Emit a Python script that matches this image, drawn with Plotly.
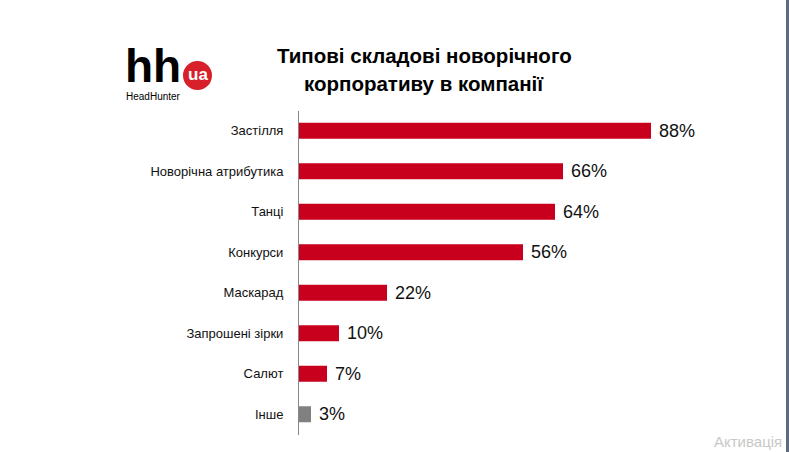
import plotly.graph_objects as go

categories = ["Застілля", "Новорічна атрибутика", "Танці", "Конкурси",
              "Маскарад", "Запрошені зірки", "Салют", "Інше"]
values = [88, 66, 64, 56, 22, 10, 7, 3]
value_labels = ["88%", "66%", "64%", "56%", "22%", "10%", "7%", "3%"]
colors = ["#C8001E"] * 7 + ["#808080"]

W, H = 789, 452
def px(x):
    return x / W
def py(y):
    return 1 - y / H

fig = go.Figure()
fig.add_trace(go.Bar(
    y=categories, x=values, orientation="h",
    marker=dict(color=colors, line=dict(width=0)),
    width=0.4, hoverinfo="skip",
))

for c, v, t in zip(categories, values, value_labels):
    fig.add_annotation(x=v, y=c, xref="x", yref="y", text=t, showarrow=False,
                       xanchor="left", yanchor="middle", xshift=6,
                       font=dict(family="Liberation Sans", size=18, color="#111111"))

# Title
fig.add_annotation(x=px(424), y=py(55), xref="paper", yref="paper",
                   text="<b>Типові складові новорічного</b>", showarrow=False,
                   xanchor="center", yanchor="middle",
                   font=dict(family="Liberation Sans", size=20.5, color="#000000"))
fig.add_annotation(x=px(424), y=py(83), xref="paper", yref="paper",
                   text="<b>корпоративу в компанії</b>", showarrow=False,
                   xanchor="center", yanchor="middle",
                   font=dict(family="Liberation Sans", size=20.5, color="#000000"))

# Logo
fig.add_annotation(x=px(123), y=py(66), xref="paper", yref="paper",
                   text="<b>hh</b>", showarrow=False, xanchor="left", yanchor="middle",
                   font=dict(family="Liberation Sans", size=46, color="#000000"))
fig.add_annotation(x=px(124), y=py(96), xref="paper", yref="paper",
                   text="HeadHunter", showarrow=False, xanchor="left", yanchor="middle",
                   font=dict(family="Liberation Sans", size=10, color="#000000"))
fig.add_shape(type="circle", xref="paper", yref="paper",
              x0=px(183), x1=px(212), y0=py(90), y1=py(61),
              fillcolor="#D7202A", line=dict(width=0))
fig.add_annotation(x=px(197.5), y=py(74), xref="paper", yref="paper",
                   text="<b>ua</b>", showarrow=False, xanchor="center", yanchor="middle",
                   font=dict(family="Liberation Sans", size=17, color="#FFFFFF"))

# right edge strip and watermark
fig.add_shape(type="rect", xref="paper", yref="paper", x0=px(786), x1=1, y0=0, y1=1,
              fillcolor="#5D6B80", line=dict(width=0), layer="above")
fig.add_annotation(x=px(712), y=py(452), xref="paper", yref="paper",
                   text="Активація", showarrow=False, xanchor="left", yanchor="bottom",
                   font=dict(family="Liberation Sans", size=15, color="#C8C8C8"))

fig.update_layout(
    width=W, height=H,
    margin=dict(l=0, r=0, t=0, b=0),
    paper_bgcolor="white", plot_bgcolor="white",
    showlegend=False,
    xaxis=dict(domain=[px(299), px(699)], range=[0, 100], visible=False, fixedrange=True),
    yaxis=dict(domain=[py(434.5), py(110.5)], autorange="reversed",
               showline=True, linecolor="#888888", linewidth=1,
               showgrid=False, zeroline=False, ticks="", automargin=False,
               ticklabelstandoff=12,
               tickfont=dict(family="Liberation Sans", size=13, color="#111111")),
    bargap=0.6,
)

fig.write_html("out.html")
